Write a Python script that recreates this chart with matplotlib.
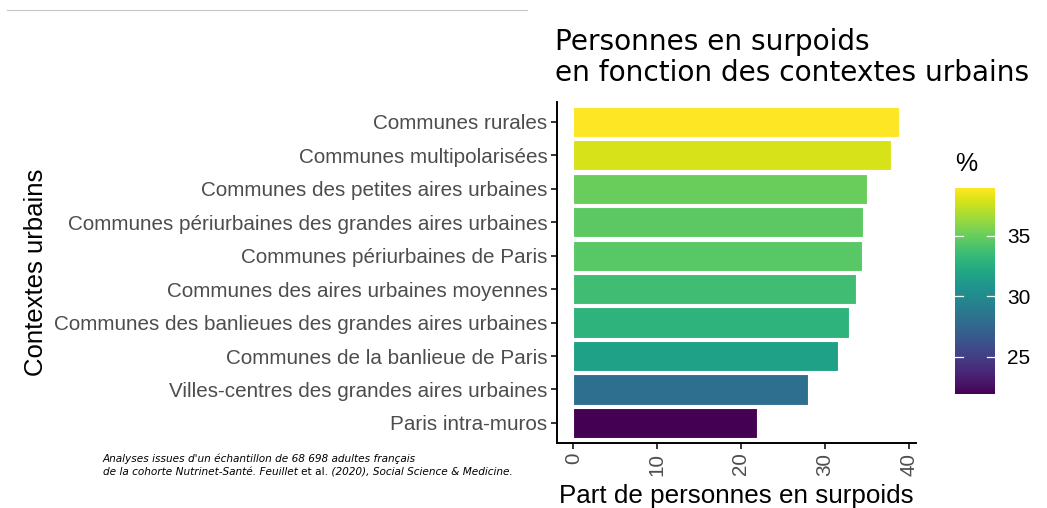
import matplotlib
matplotlib.use("Agg")
import matplotlib.pyplot as plt
import matplotlib as mpl
import numpy as np
from matplotlib.lines import Line2D
from matplotlib.transforms import blended_transform_factory

# catégories de bas en haut
categories = [
    "Paris intra-muros",
    "Villes-centres des grandes aires urbaines",
    "Communes de la banlieue de Paris",
    "Communes des banlieues des grandes aires urbaines",
    "Communes des aires urbaines moyennes",
    "Communes périurbaines de Paris",
    "Communes périurbaines des grandes aires urbaines",
    "Communes des petites aires urbaines",
    "Communes multipolarisées",
    "Communes rurales",
]
values = [21.9, 28.0, 31.6, 32.9, 33.7, 34.5, 34.6, 35.0, 37.9, 38.9]
x_ticks = [0, 10, 20, 30, 40]
cbar_ticks = [25, 30, 35]

W, H = 1047, 508
fig = plt.figure(figsize=(W / 100, H / 100), dpi=100)

# axes placés en pixels
left, right, top, bottom = 557, 915.6, 101.7, 443
ax = fig.add_axes([left / W, 1 - bottom / H, (right - left) / W, (bottom - top) / H])

norm = mpl.colors.Normalize(vmin=min(values), vmax=max(values))
cmap = plt.get_cmap("viridis")
y = np.arange(len(categories))
ax.barh(y, values, height=0.9, color=cmap(norm(np.array(values))),
        edgecolor="white", linewidth=0.8)

vmax = max(values)
ax.set_xlim(-0.05 * vmax, vmax * 1.05)
ax.set_ylim(-0.6, len(categories) - 0.4)
ax.set_xticks(x_ticks)
ax.set_xticklabels([str(t) for t in x_ticks], rotation=90, va="top", ha="center")
ax.set_yticks(y)
ax.set_yticklabels(categories)

for s in ["top", "right"]:
    ax.spines[s].set_visible(False)
for s in ["left", "bottom"]:
    ax.spines[s].set_color("black")
    ax.spines[s].set_linewidth(1.4)

ax.tick_params(axis="both", length=4, width=1.1, color="black", pad=3,
               labelcolor="#4D4D4D", labelsize=14.85)
for lab in ax.get_yticklabels() + ax.get_xticklabels():
    lab.set_family("Liberation Sans")

ax.set_xlabel("Part de personnes en surpoids", family="Liberation Sans",
              fontsize=18.7, labelpad=6)
ax.set_ylabel("Contextes urbains", family="Liberation Sans", fontsize=18.5, labelpad=4)

fig.text(555 / W, 1 - 28 / H, "Personnes en surpoids\nen fonction des contextes urbains",
         family="DejaVu Sans", fontsize=20.2, va="top", ha="left", linespacing=1.15)

# légende couleur
cax = fig.add_axes([955 / W, 1 - 394.3 / H, 40 / W, (394.3 - 188.3) / H])
cb = fig.colorbar(mpl.cm.ScalarMappable(norm=norm, cmap=cmap), cax=cax)
cb.outline.set_visible(False)
cb.set_ticks(cbar_ticks)
cax.tick_params(axis="y", length=0, labelsize=15, labelcolor="black", pad=9)
for lab in cax.get_yticklabels():
    lab.set_family("Liberation Sans")
# petits traits blancs des deux côtés, style ggplot
tr = blended_transform_factory(cax.transAxes, cax.transData)
for t in cbar_ticks:
    for x0, x1 in [(0, 0.2), (0.8, 1)]:
        cax.add_line(Line2D([x0, x1], [t, t], transform=tr, color="white",
                            linewidth=0.9, zorder=5))
fig.text(955 / W, 1 - 152 / H, "%", family="Liberation Sans", fontsize=18,
         va="top", ha="left")

# note de bas de page
cap_size = 7.6
fig.text(103 / W, 1 - 462 / H, "Analyses issues d'un échantillon de 68 698 adultes français",
         style="italic", fontsize=cap_size, va="baseline")
y2 = 1 - 475 / H
t1 = fig.text(103 / W, y2, "de la cohorte Nutrinet-Santé. Feuillet ", style="italic",
              fontsize=cap_size, va="baseline")
t2 = ax.annotate("et al.", xy=(1, y2), xycoords=(t1, "figure fraction"),
                 fontsize=cap_size, va="baseline", annotation_clip=False)
ax.annotate(" (2020), Social Science & Medicine.", xy=(1, y2),
            xycoords=(t2, "figure fraction"), style="italic", fontsize=cap_size,
            va="baseline", annotation_clip=False)

# trait gris en haut
fig.add_artist(Line2D([7 / W, 527 / W], [1 - 10 / H, 1 - 10 / H],
                      color="#C8C8C8", linewidth=0.8))

fig.savefig("out.png", dpi=100)
